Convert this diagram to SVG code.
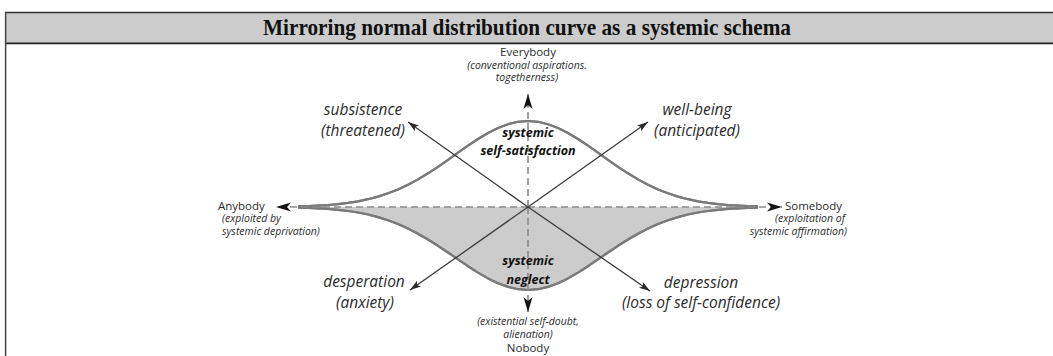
<svg xmlns="http://www.w3.org/2000/svg" width="1053" height="356" viewBox="0 0 1053 356">
<style>
.t{font-family:"Open Sans","Noto Sans",sans-serif;fill:#2b2b2b}
.big{font-size:15.5px;font-style:italic;text-anchor:middle}
.sm{font-size:10.5px;font-style:italic}
.ax{font-size:11.5px}
.bold{font-size:12.5px;font-style:italic;font-weight:bold;fill:#111;text-anchor:middle}
.mid{text-anchor:middle}
.end{text-anchor:end}
.dash{stroke:#8a8a8a;stroke-width:1.6;stroke-dasharray:7 4;fill:none;marker-end:url(#axh)}
.arr{stroke:#3a3a3a;stroke-width:1.3;fill:none;marker-end:url(#ah)}
.curve{fill:none;stroke:#7a7a7a;stroke-width:2.2;stroke-linejoin:round}
.curvein{fill:none;stroke:#f0f0f0;stroke-width:0.8;stroke-linejoin:round}
</style>
<defs>
<marker id="ah" markerUnits="userSpaceOnUse" viewBox="0 -5 12 10" refX="11" refY="0" markerWidth="12" markerHeight="10" orient="auto"><path d="M0,-3.5 L11,0 L0,3.5 L2.5,0Z" fill="#2a2a2a"/></marker>
<marker id="axh" markerUnits="userSpaceOnUse" viewBox="0 -5 16 10" refX="15" refY="0" markerWidth="16" markerHeight="10" orient="auto"><path d="M0,-4.5 L15,0 L0,4.5 L4,0Z" fill="#111"/></marker>
</defs>
<rect width="1053" height="356" fill="#fff"/>
<g id="header">
<rect x="5.5" y="12.5" width="1048" height="30" fill="#cccccc"/>
<line x1="5" y1="12.5" x2="1053" y2="12.5" stroke="#333" stroke-width="1.5"/>
<line x1="5" y1="42.5" x2="1053" y2="42.5" stroke="#777" stroke-width="1.2"/>
<line x1="5" y1="43.7" x2="1053" y2="43.7" stroke="#222" stroke-width="1.2"/>
<line x1="5.6" y1="12" x2="5.6" y2="356" stroke="#444" stroke-width="1.5"/>
<text x="527" y="35" text-anchor="middle" font-family="Liberation Serif, serif" font-weight="bold" font-size="23.5" textLength="528" lengthAdjust="spacingAndGlyphs" fill="#111">Mirroring normal distribution curve as a systemic schema</text>
</g>
<g id="curves">
<path d="M298,207 L298,207.6 308,207.9 318,208.3 328,208.9 338,209.8 348,211.0 358,212.5 368,214.5 378,217.1 388,220.2 398,224.0 408,228.5 418,233.7 428,239.5 438,245.8 448,252.5 458,259.4 468,266.2 478,272.6 488,278.4 498,283.3 508,286.9 518,289.2 528,290.0 538,289.2 548,286.9 558,283.3 568,278.4 578,272.6 588,266.2 598,259.4 608,252.5 618,245.8 628,239.5 638,233.7 648,228.5 658,224.0 668,220.2 678,217.1 688,214.5 698,212.5 708,211.0 718,209.8 728,208.9 738,208.3 748,207.9 758,207.6 L758,207Z" fill="#cccccc"/>
<path id="upper" class="curve" d="M298,206.4 L308,206.1 318,205.6 328,205.0 338,204.1 348,202.9 358,201.3 368,199.2 378,196.6 388,193.3 398,189.4 408,184.7 418,179.4 428,173.3 438,166.8 448,159.8 458,152.7 468,145.7 478,139.0 488,133.0 498,128.0 508,124.2 518,121.8 528,121.0 538,121.8 548,124.2 558,128.0 568,133.0 578,139.0 588,145.7 598,152.7 608,159.8 618,166.8 628,173.3 638,179.4 648,184.7 658,189.4 668,193.3 678,196.6 688,199.2 698,201.3 708,202.9 718,204.1 728,205.0 738,205.6 748,206.1 758,206.4"/>
<path id="lower" class="curve" d="M298,207.6 L308,207.9 318,208.3 328,208.9 338,209.8 348,211.0 358,212.5 368,214.5 378,217.1 388,220.2 398,224.0 408,228.5 418,233.7 428,239.5 438,245.8 448,252.5 458,259.4 468,266.2 478,272.6 488,278.4 498,283.3 508,286.9 518,289.2 528,290.0 538,289.2 548,286.9 558,283.3 568,278.4 578,272.6 588,266.2 598,259.4 608,252.5 618,245.8 628,239.5 638,233.7 648,228.5 658,224.0 668,220.2 678,217.1 688,214.5 698,212.5 708,211.0 718,209.8 728,208.9 738,208.3 748,207.9 758,207.6"/>
<use href="#upper" class="curvein"/>
<use href="#lower" class="curvein"/>
</g>
<g id="connectors">
<line class="dash" x1="528" y1="207" x2="528" y2="94"/>
<line class="dash" x1="528" y1="207" x2="528" y2="312"/>
<line class="dash" x1="528" y1="207" x2="276" y2="207"/>
<line class="dash" x1="528" y1="207" x2="782" y2="207"/>
<line class="arr" x1="528" y1="207" x2="408" y2="122"/>
<line class="arr" x1="528" y1="207" x2="648" y2="122"/>
<line class="arr" x1="528" y1="207" x2="410" y2="290"/>
<line class="arr" x1="528" y1="207" x2="650" y2="291"/>
</g>
<g id="everybody" class="t">
<text class="ax mid" x="528" y="56">Everybody</text>
<text class="sm mid" x="527" y="69">(conventional aspirations.</text>
<text class="sm mid" x="527" y="81">togetherness)</text>
</g>
<g id="subsistence" class="t">
<text class="big" x="363" y="115">subsistence</text>
<text class="big" x="363" y="136">(threatened)</text>
</g>
<g id="wellbeing" class="t">
<text class="big" x="697" y="115">well-being</text>
<text class="big" x="697" y="136">(anticipated)</text>
</g>
<g id="satisfaction" class="t">
<text class="bold" x="528" y="137">systemic</text>
<text class="bold" x="528" y="155">self-satisfaction</text>
</g>
<g id="anybody" class="t">
<text class="ax" x="218" y="210">Anybody</text>
<text class="sm" x="222" y="222">(exploited by</text>
<text class="sm" x="222" y="235">systemic deprivation)</text>
</g>
<g id="somebody" class="t">
<text class="ax" x="785" y="210">Somebody</text>
<text class="sm end" x="845" y="222">(exploitation of</text>
<text class="sm end" x="847" y="235">systemic affirmation)</text>
</g>
<g id="neglect" class="t">
<text class="bold" x="528" y="265">systemic</text>
<text class="bold" x="528" y="284">neglect</text>
</g>
<g id="desperation" class="t">
<text class="big" x="364" y="287">desperation</text>
<text class="big" x="365" y="308">(anxiety)</text>
</g>
<g id="depression" class="t">
<text class="big" x="701" y="288">depression</text>
<text class="big" x="701" y="308">(loss of self-confidence)</text>
</g>
<g id="nobody" class="t">
<text class="sm mid" x="528" y="325">(existential self-doubt,</text>
<text class="sm mid" x="528" y="338">alienation)</text>
<text class="ax mid" x="528" y="352">Nobody</text>
</g>
</svg>
